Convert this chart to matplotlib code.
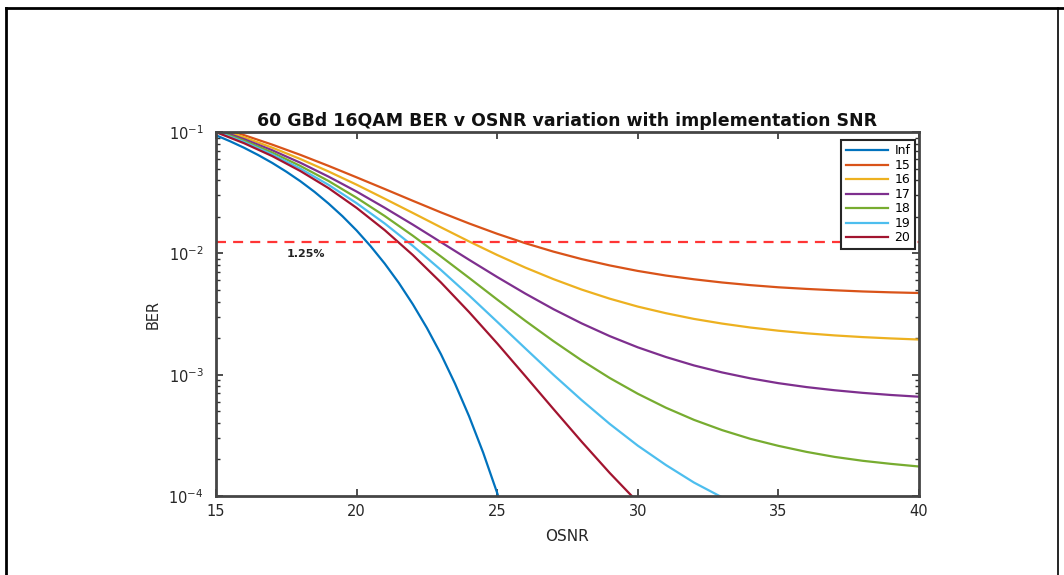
import matplotlib
matplotlib.use("Agg")
import matplotlib.pyplot as plt
from matplotlib.lines import Line2D
from matplotlib.ticker import LogLocator, NullFormatter, FixedLocator, FixedFormatter

plt.rcParams['font.family'] = ['DejaVu Sans']
plt.rcParams['mathtext.fontset'] = 'dejavusans'

# ---- data ----
osnr_inf = [15, 15.5, 16, 16.5, 17, 17.5, 18, 18.5, 19, 19.5, 20, 20.5, 21, 21.5,
            22, 22.5, 23, 23.5, 24, 24.5, 25, 25.5, 26]
ber_inf = [0.0940, 0.0839, 0.0741, 0.0646, 0.0556, 0.0471, 0.0393, 0.03216, 0.02575,
           0.0202, 0.01543, 0.01144, 0.00823, 0.005713, 0.003803, 0.002427, 0.001474,
           0.000843, 0.000454, 0.000228, 0.0001058, 4.5e-5, 1.73e-5]

osnr_full = [15, 16, 17, 18, 19, 20, 21, 22, 23, 24, 25, 26, 27, 28, 29, 30,
             31, 32, 33, 34, 35, 36, 37, 38, 39, 40]
ber_15 = [0.1110, 0.0942, 0.0787, 0.0648, 0.0526, 0.0423, 0.0339, 0.0271, 0.02174,
          0.01763, 0.01449, 0.01212, 0.01033, 0.00897, 0.00795, 0.00716, 0.00656,
          0.00611, 0.00575, 0.00547, 0.00525, 0.00509, 0.00496, 0.00485, 0.00477, 0.00471]
ber_16 = [0.1078, 0.0904, 0.0743, 0.0599, 0.0473, 0.0368, 0.0282, 0.02152, 0.01638,
          0.01253, 0.00969, 0.00763, 0.00613, 0.00503, 0.00423, 0.00364, 0.00321,
          0.00288, 0.002636, 0.002447, 0.002303, 0.002192, 0.002106, 0.00204,
          0.001989, 0.001948]
ber_17 = [0.1051, 0.0873, 0.0707, 0.0558, 0.0429, 0.0323, 0.02375, 0.01724, 0.01236,
          0.00885, 0.00638, 0.004658, 0.003466, 0.002649, 0.002079, 0.00168, 0.001398,
          0.001191, 0.001043, 0.000933, 0.000851, 0.00079, 0.000744, 0.000708,
          0.00068, 0.000658]
ber_18 = [0.1030, 0.0847, 0.0677, 0.0525, 0.0395, 0.0287, 0.0203, 0.01397, 0.00942,
          0.00628, 0.00416, 0.00278, 0.00189, 0.001313, 0.000939, 0.000696, 0.000534,
          0.000424, 0.000349, 0.000296, 0.000259, 0.000231, 0.00021, 0.000195,
          0.000184, 0.000175]
osnr_19 = [15, 16, 17, 18, 19, 20, 21, 22, 23, 24, 25, 26, 27, 28, 29, 30, 31, 32, 33, 34]
ber_19 = [0.1012, 0.0826, 0.0653, 0.0499, 0.0367, 0.0259, 0.01762, 0.01152, 0.00729,
          0.0045, 0.002727, 0.001646, 0.000998, 0.000618, 0.000393, 0.00026, 0.00018,
          0.000129, 9.74e-5, 7.66e-5]
osnr_20 = [15, 16, 17, 18, 19, 20, 21, 22, 23, 24, 25, 26, 27, 28, 29, 30, 31]
ber_20 = [0.0997, 0.0808, 0.0633, 0.0477, 0.0345, 0.0237, 0.01553, 0.00968, 0.00575,
          0.00328, 0.00181, 0.000974, 0.000521, 0.000281, 0.000155, 8.88e-5, 5.3e-5]

labels = ['Inf', '15', '16', '17', '18', '19', '20']
colors = ['#0072BD', '#D95319', '#EDB120', '#7E2F8E', '#77AC30', '#4DBEEE', '#A2142F']
threshold = 0.0125
threshold_label = '1.25%'
xticks = [15, 20, 25, 30, 35, 40]
yticks = [1e-4, 1e-3, 1e-2, 1e-1]
ytick_labels = ['10$^{-4}$', '10$^{-3}$', '10$^{-2}$', '10$^{-1}$']

W, H = 1064, 575
fig = plt.figure(figsize=(W / 100, H / 100), dpi=100)
fig.patch.set_facecolor('white')

ax = fig.add_axes([216 / W, 1 - 496 / H, (919 - 216) / W, (496 - 132) / H])

series = [(osnr_inf, ber_inf), (osnr_full, ber_15), (osnr_full, ber_16),
          (osnr_full, ber_17), (osnr_full, ber_18), (osnr_19, ber_19), (osnr_20, ber_20)]
for (xs, ys), lab, c in zip(series, labels, colors):
    ax.plot(xs, ys, color=c, lw=1.6, label=lab, solid_joinstyle='round')

ax.axhline(threshold, color='#FF3535', lw=1.6, ls=(0, (4.5, 3.2)))
ax.text(17.5, 0.0098, threshold_label, fontsize=8, fontweight='bold',
        color='#222222', ha='left', va='center')

ax.set_yscale('log')
ax.set_xlim(15, 40)
ax.set_ylim(1e-4, 1e-1)
ax.xaxis.set_major_locator(FixedLocator(xticks))
ax.set_xticklabels([str(v) for v in xticks])
ax.yaxis.set_major_locator(FixedLocator(yticks))
ax.yaxis.set_major_formatter(FixedFormatter(ytick_labels))
ax.yaxis.set_minor_locator(LogLocator(base=10, subs=range(2, 10)))
ax.yaxis.set_minor_formatter(NullFormatter())

ax.tick_params(which='both', direction='in', top=True, right=True,
               colors='#303030', labelcolor='#262626', labelsize=10.5)
ax.tick_params(axis='x', which='major', length=5, width=1.2, pad=6)
ax.tick_params(axis='y', which='major', length=5, width=1.2, pad=9)
ax.tick_params(which='minor', length=3, width=1.0)
for sp in ax.spines.values():
    sp.set_linewidth(2.0)
    sp.set_color('#454545')

ax.set_xlabel('OSNR', fontsize=11, color='#262626', va='top')
ax.xaxis.set_label_coords(0.5, (496 - 529) / 364)
ax.set_ylabel('BER', fontsize=10.5, color='#262626')
ax.yaxis.set_label_coords((161 - 216) / 703, 0.5)
ax.set_title('60 GBd 16QAM BER v OSNR variation with implementation SNR',
             fontsize=12.5, fontweight='bold', color='#111111', pad=4)

leg = ax.legend(loc='upper right', fontsize=9, frameon=True, fancybox=False,
                edgecolor='#262626', framealpha=1, handlelength=3.4,
                labelspacing=0.12, borderpad=0.35, handletextpad=0.5,
                borderaxespad=0.0, bbox_to_anchor=(0.994, 0.978))
leg.get_frame().set_linewidth(1.5)

# outer frame of the picture
fig.add_artist(Line2D([6 / W, 1], [1 - 8 / H, 1 - 8 / H], transform=fig.transFigure,
                      color='black', lw=2))
fig.add_artist(Line2D([6 / W, 6 / W], [0, 1 - 8 / H], transform=fig.transFigure,
                      color='black', lw=2))
fig.add_artist(Line2D([1058 / W, 1058 / W], [0, 1 - 8 / H], transform=fig.transFigure,
                      color='black', lw=1.2))

fig.savefig('out.png', dpi=100)
